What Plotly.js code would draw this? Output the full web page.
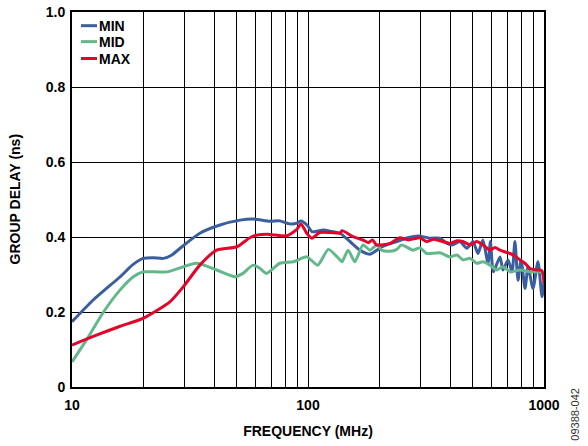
<!DOCTYPE html>
<html>
<head>
<meta charset="utf-8">
<script src="https://cdn.plot.ly/plotly-3.0.1.min.js"></script>
<style>html,body{margin:0;padding:0;background:#fff;}#chart{width:588px;height:446px;}</style>
</head>
<body>
<div id="chart"></div>
<script>
// MIN series
const minFreq = [10, 12.3, 16, 18, 20, 22, 24.4, 26.5, 28.7, 34.8, 42.4, 51.5, 58.5, 69, 76, 83.6, 89.8, 93.4, 99, 104, 110, 115.8, 127.6, 136.6, 150.6, 166, 183, 196, 206, 238, 265, 292.6, 329, 362, 388, 411, 440, 472, 500, 525, 551, 579, 593, 610, 651, 670, 704, 732, 753, 776, 800, 831, 856, 898, 943, 981, 1000];
const minVal  = [0.174, 0.232, 0.294, 0.325, 0.343, 0.345, 0.343, 0.352, 0.370, 0.410, 0.432, 0.445, 0.448, 0.442, 0.443, 0.435, 0.437, 0.443, 0.432, 0.414, 0.416, 0.419, 0.414, 0.410, 0.388, 0.365, 0.354, 0.365, 0.374, 0.388, 0.398, 0.403, 0.397, 0.397, 0.383, 0.379, 0.388, 0.370, 0.388, 0.356, 0.392, 0.330, 0.388, 0.307, 0.347, 0.312, 0.339, 0.307, 0.388, 0.285, 0.339, 0.263, 0.321, 0.263, 0.334, 0.241, 0.280];
// MID series
const midFreq = [10, 11.5, 13.6, 16, 18.2, 20, 25.2, 33.7, 41, 49, 53, 58.5, 62.7, 66.7, 76, 86.7, 98.8, 110, 122, 136.6, 139.5, 148, 158, 171, 183, 196, 205, 222, 238, 249, 279, 298, 318, 329, 362, 400, 428, 454, 486, 519, 551, 590, 630, 670, 718, 791, 872, 962, 1000];
const midVal  = [0.067, 0.125, 0.200, 0.259, 0.294, 0.307, 0.307, 0.330, 0.312, 0.294, 0.303, 0.325, 0.316, 0.303, 0.330, 0.334, 0.347, 0.325, 0.367, 0.339, 0.334, 0.365, 0.334, 0.379, 0.365, 0.379, 0.365, 0.362, 0.367, 0.379, 0.365, 0.371, 0.356, 0.356, 0.358, 0.347, 0.352, 0.339, 0.343, 0.330, 0.334, 0.325, 0.312, 0.321, 0.307, 0.312, 0.307, 0.307, 0.299];
// MAX series
const maxFreq = [10, 12.3, 16, 20, 26, 29.6, 34.8, 41, 50, 56.7, 60.7, 69, 81, 89.3, 93.4, 98.8, 103.8, 112, 124, 136.6, 139.5, 155, 171, 180, 187.5, 195, 222.6, 245, 266, 298, 318, 340, 362, 400, 428, 453, 486, 519, 551, 590, 620, 651, 685, 718, 750, 791, 830, 872, 930, 980, 1000];
const maxVal  = [0.112, 0.135, 0.162, 0.183, 0.227, 0.267, 0.325, 0.365, 0.374, 0.398, 0.405, 0.407, 0.403, 0.419, 0.435, 0.410, 0.397, 0.412, 0.412, 0.410, 0.417, 0.401, 0.392, 0.385, 0.392, 0.379, 0.383, 0.398, 0.392, 0.398, 0.388, 0.394, 0.390, 0.383, 0.390, 0.388, 0.379, 0.388, 0.379, 0.365, 0.372, 0.365, 0.360, 0.356, 0.350, 0.339, 0.330, 0.316, 0.312, 0.310, 0.276];

const seriesNames = ["MIN", "MID", "MAX"];
const xTickVals = [10,20,30,40,50,60,70,80,90,100,200,300,400,500,600,700,800,900,1000];
const xTickText = ["10","","","","","","","","","100","","","","","","","","","1000"];
const yTickVals = [0, 0.2, 0.4, 0.6, 0.8, 1.0];
const yTickText = ["0", "0.2", "0.4", "0.6", "0.8", "1.0"];

const colors = ["#3B5E9E", "#62B88A", "#E2062C"];
const F = "Liberation Sans, Arial, sans-serif";
const boldFont = {family: F, size: 14, color: "#000", weight: "bold"};

const traces = [
  {x: minFreq, y: minVal, name: seriesNames[0]},
  {x: midFreq, y: midVal, name: seriesNames[1]},
  {x: maxFreq, y: maxVal, name: seriesNames[2]}
].map((t, i) => Object.assign(t, {
  type: "scatter", mode: "lines", showlegend: false,
  line: {color: colors[i], width: 3, shape: "spline", smoothing: 0.6}
}));

// custom compact legend (short line keys)
const legendY = [0.9635, 0.921, 0.876];
const shapes = seriesNames.map((n, i) => ({
  type: "line", xref: "paper", yref: "paper",
  x0: 0.019, x1: 0.053, y0: legendY[i], y1: legendY[i],
  line: {color: colors[i], width: 3}
}));
const annotations = seriesNames.map((n, i) => ({
  text: n, xref: "paper", yref: "paper", x: 0.054, y: legendY[i],
  xanchor: "left", yanchor: "middle", showarrow: false, font: boldFont
}));
annotations.push({
  text: "GROUP DELAY (ns)", xref: "paper", yref: "paper", x: -0.121, y: 0.5,
  xanchor: "center", yanchor: "middle", showarrow: false, textangle: -90, font: boldFont
});
annotations.push({
  text: "09388-042", xref: "paper", yref: "paper", x: 1.065, y: -0.072,
  xanchor: "center", yanchor: "middle", showarrow: false, textangle: -90,
  font: {family: F, size: 11, color: "#333"}
});

const layout = {
  width: 588, height: 446,
  margin: {l: 72, r: 44, t: 12, b: 59},
  paper_bgcolor: "#fff", plot_bgcolor: "#fff",
  showlegend: false,
  xaxis: {
    type: "log", range: [1, 3], tickvals: xTickVals, ticktext: xTickText,
    showgrid: true, gridcolor: "#000", gridwidth: 1,
    showline: true, linecolor: "#000", linewidth: 2, mirror: true,
    ticks: "", tickfont: boldFont, ticklabelstandoff: 4,
    title: {text: "FREQUENCY (MHz)", font: boldFont, standoff: 14},
    zeroline: false
  },
  yaxis: {
    range: [0, 1], tickvals: yTickVals, ticktext: yTickText,
    showgrid: true, gridcolor: "#000", gridwidth: 1,
    showline: true, linecolor: "#000", linewidth: 2, mirror: true,
    ticks: "", tickfont: boldFont, ticklabelstandoff: 2,
    zeroline: false
  },
  shapes: shapes,
  annotations: annotations
};

Plotly.newPlot("chart", traces, layout, {displayModeBar: false, staticPlot: true});
</script>
</body>
</html>
